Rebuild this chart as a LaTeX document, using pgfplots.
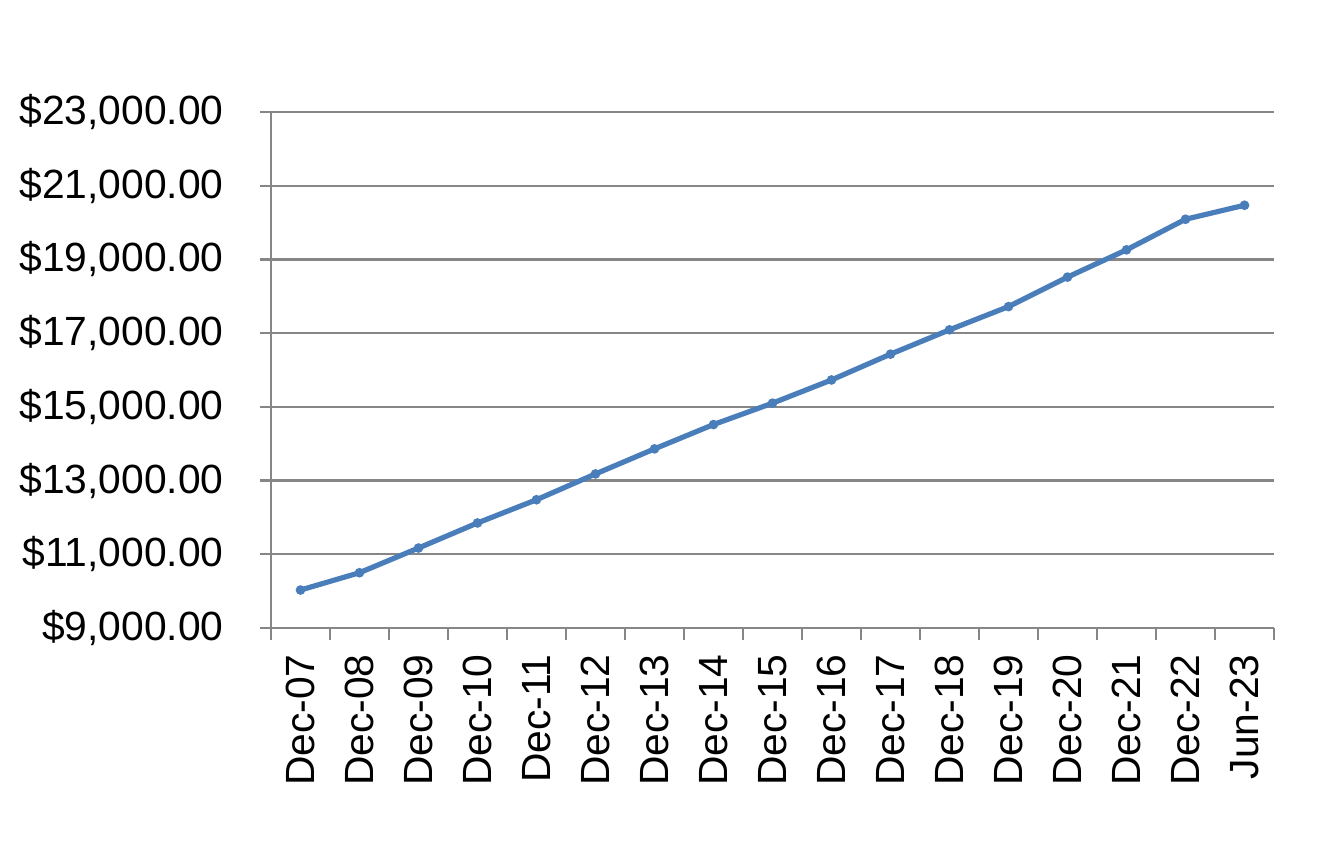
\documentclass[border=0pt]{standalone}
\usepackage{fontspec}
\setmainfont{Liberation Sans}
\usepackage{pgfplots}
\pgfplotsset{compat=1.18}

\definecolor{gridgray}{HTML}{868686}
\definecolor{lineblue}{HTML}{4A7EBB}

\pgfplotstableread{
x value
0  10030
1  10500
2  11170
3  11850
4  12480
5  13180
6  13860
7  14520
8  15100
9  15730
10 16430
11 17090
12 17720
13 18520
14 19260
15 20090
16 20470
}\growth

\begin{document}
\begin{tikzpicture}
\begin{axis}[
  at={(0,0)}, anchor=south west,
  scale only axis,
  width=501.5pt, height=258pt,
  xmin=-0.5, xmax=16.5,
  ymin=9000, ymax=23000,
  scaled y ticks=false,
  ytick={9000,11000,...,23000},
  yticklabels={{\$9,000.00},{\$11,000.00},{\$13,000.00},{\$15,000.00},{\$17,000.00},{\$19,000.00},{\$21,000.00},{\$23,000.00}},
  xtick={0,...,16},
  xticklabels={Dec-07,Dec-08,Dec-09,Dec-10,Dec-11,Dec-12,Dec-13,Dec-14,Dec-15,Dec-16,Dec-17,Dec-18,Dec-19,Dec-20,Dec-21,Dec-22,Jun-23},
  minor xtick={-0.5,0.5,...,16.5},
  axis x line*=bottom, axis y line*=left,
  axis line style={-, draw=gridgray, line width=1.1pt},
  tick align=outside,
  major tick length=5.5pt, minor tick length=6pt,
  major x tick style={draw=none},
  tick style={draw=gridgray, line width=1.1pt},
  ymajorgrids,
  grid style={draw=gridgray, line width=1.1pt},
  tick label style={font=\fontsize{20.4}{24}\selectfont},
  xticklabel style={rotate=90, anchor=east, inner sep=0pt, xshift=-7.5pt},
  yticklabel style={anchor=east, inner sep=0pt, xshift=-18pt},
  clip=false,
]
\addplot[color=lineblue, line width=2.6pt, mark=*, mark size=2pt,
  mark options={solid, fill=lineblue, line width=0.8pt}] table[x=x, y=value] {\growth};
\end{axis}
\path (-135.5pt,-109pt) rectangle (523pt,314pt);
\end{tikzpicture}
\end{document}
